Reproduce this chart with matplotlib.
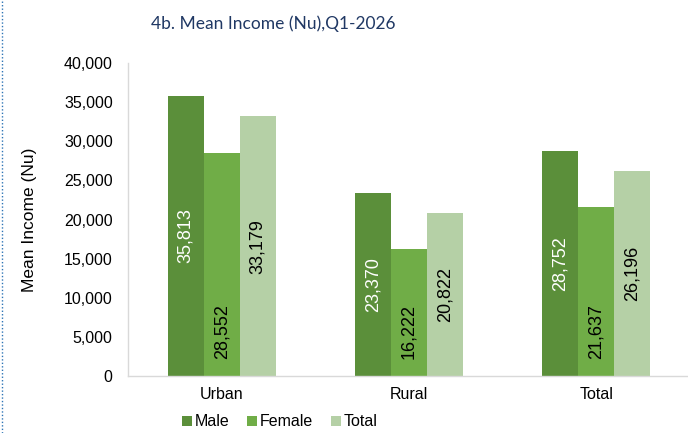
import matplotlib
matplotlib.use("Agg")
import matplotlib.pyplot as plt
from matplotlib.lines import Line2D
import numpy as np

categories = ["Urban", "Rural", "Total"]
series_names = ["Male", "Female", "Total"]
male = [35813, 23370, 28752]
female = [28552, 16222, 21637]
total = [33179, 20822, 26196]
yticks = [0, 5000, 10000, 15000, 20000, 25000, 30000, 35000, 40000]

colors = ["#5b8f3a", "#70ad47", "#b5d0a6"]
FONT = "Liberation Sans"

W, H = 688, 433
fig = plt.figure(figsize=(W / 100, H / 100), dpi=100)
ax = fig.add_axes([128 / W, (H - 376) / H, (690 - 128) / W, (376 - 63) / H])

x = np.arange(len(categories))
bw = 0.192
values = [male, female, total]
bars = []
for i, (vals, c, name) in enumerate(zip(values, colors, series_names)):
    b = ax.bar(x + (i - 1) * bw, vals, width=bw, color=c, label=name, zorder=2)
    bars.append(b)

# data labels
for rect, v in zip(bars[0], male):
    ax.text(rect.get_x() + rect.get_width() / 2, v / 2, f"{v:,}", rotation=90,
            ha="center", va="center", color="white", fontsize=13, family=FONT)
for rect, v in zip(bars[1], female):
    ax.annotate(f"{v:,}", (rect.get_x() + rect.get_width() / 2, 0),
                xytext=(0, 12), textcoords="offset points", rotation=90,
                ha="center", va="bottom", color="black", fontsize=13, family=FONT)
for rect, v in zip(bars[2], total):
    ax.text(rect.get_x() + rect.get_width() / 2, v / 2, f"{v:,}", rotation=90,
            ha="center", va="center", color="black", fontsize=13, family=FONT)

ax.set_xlim(-0.5, len(categories) - 0.5)
ax.set_ylim(0, 40000)
ax.set_yticks(yticks)
ax.set_yticklabels([f"{t:,}" for t in yticks], fontsize=11.5, family=FONT)
ax.set_xticks(x)
ax.set_xticklabels(categories, fontsize=11.5, family=FONT)
ax.tick_params(axis="both", length=0)
ax.tick_params(axis="y", pad=11)
ax.tick_params(axis="x", pad=8)
for s in ["top", "right"]:
    ax.spines[s].set_visible(False)
for s in ["left", "bottom"]:
    ax.spines[s].set_color("#d9d9d9")
    ax.spines[s].set_linewidth(1)
ax.set_ylabel("Mean Income (Nu)", fontsize=12.5, family=FONT)
ax.yaxis.set_label_coords(-(128 - 37) / (690 - 128), 0.5)

fig.text(273 / W, 1 - 24 / H, "4b. Mean Income (Nu),Q1-2026", ha="center", va="center",
         fontsize=12.5, color="#203864", family="Lato")

leg = fig.legend(handles=bars, labels=series_names, loc="center",
                 bbox_to_anchor=(280 / W, 1 - 422 / H), ncol=3, frameon=False,
                 prop={"family": FONT, "size": 11.5}, handlelength=0.6, handleheight=0.6,
                 handletextpad=0.2, columnspacing=1.1)

fig.add_artist(Line2D([2 / W, 2 / W], [0, 1], transform=fig.transFigure,
                      color="#2e75b6", linestyle=(0, (1, 1.5)), linewidth=1))

fig.savefig("out.png", dpi=100)
